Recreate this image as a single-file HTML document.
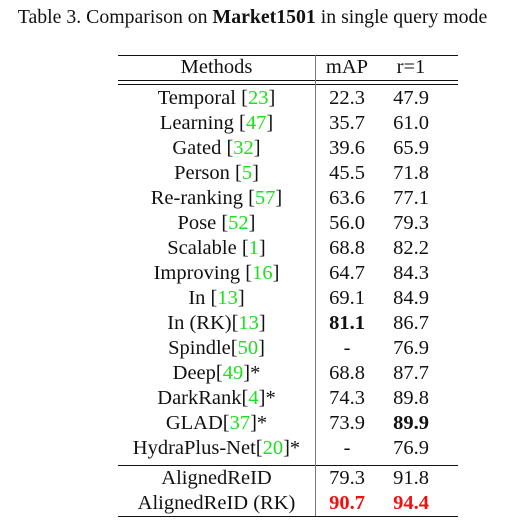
<!DOCTYPE html>
<html><head><style>
body{margin:0;width:505px;height:528px;background:#fff;font-family:"Liberation Serif",serif;color:#111;position:relative;overflow:hidden}
.title{position:absolute;left:0;width:505px;top:6px;text-align:center;font-size:19.8px;white-space:nowrap}
.r{position:absolute;left:118px;width:340px;height:25px;font-size:20.5px;line-height:25px;white-space:nowrap}
.r span{position:absolute;text-align:center}
.m{left:0;width:197px}.a{left:197px;width:64px}.b{left:261px;width:64px}
.g{color:#1ee01e}.red{color:#f01010;font-weight:bold}
.hl{position:absolute;height:1px;background:#111;left:118px;width:340px}
</style></head><body>
<div class="title">Table 3. Comparison on <b>Market1501</b> in single query mode</div>
<div class="hl" style="top:55px"></div>
<div class="hl" style="top:80px"></div>
<div class="hl" style="top:84px"></div>
<div class="hl" style="top:465px"></div>
<div class="hl" style="top:516px"></div>
<div style="position:absolute;left:315px;top:55px;width:1px;height:461px;background:#777"></div>
<div class="r" style="top:55px"><span class="m">Methods</span><span class="a">mAP</span><span class="b">r=1</span></div>
<div id="rows"></div>
<script>
const methods=["Temporal [23]","Learning [47]","Gated [32]","Person [5]","Re-ranking [57]","Pose [52]","Scalable [1]","Improving [16]","In [13]","In (RK)[13]","Spindle[50]","Deep[49]*","DarkRank[4]*","GLAD[37]*","HydraPlus-Net[20]*","AlignedReID","AlignedReID (RK)"];
const mAP=["22.3","35.7","39.6","45.5","63.6","56.0","68.8","64.7","69.1","<b>81.1</b>","-","68.8","74.3","73.9","-","79.3","<b class=red>90.7</b>"];
const r1=["47.9","61.0","65.9","71.8","77.1","79.3","82.2","84.3","84.9","86.7","76.9","87.7","89.8","<b>89.9</b>","76.9","91.8","<b class=red>94.4</b>"];
const rows=document.getElementById('rows');
methods.forEach((m,i)=>{
  const d=document.createElement('div');d.className='r';
  const top=i<15?86+i*25:466+(i-15)*25;
  d.style.top=top+'px';
  
  
  const mm=m.replace(/\[(\d+)\]/,'[<span class="g" style="position:static">$1</span>]');
  d.innerHTML='<span class="m">'+mm+'</span><span class="a">'+mAP[i]+'</span><span class="b">'+r1[i]+'</span>';
  rows.appendChild(d);
});
</script>
</body></html>
